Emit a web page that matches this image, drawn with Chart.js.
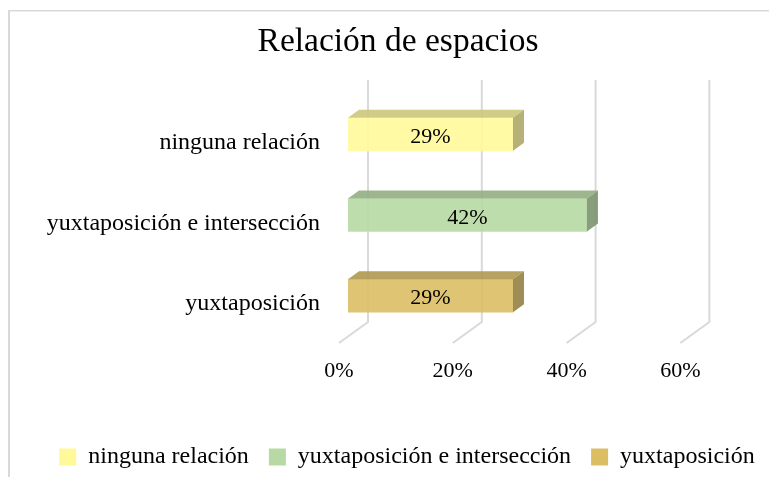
<!DOCTYPE html>
<html>
<head>
<meta charset="utf-8">
<script src="https://cdn.jsdelivr.net/npm/chart.js@4.4.1/dist/chart.umd.min.js"></script>
<style>
  html, body { margin: 0; padding: 0; background: #fff; }
</style>
</head>
<body>
<canvas id="graficoEspacios" width="769" height="477"></canvas>
<script>
var categorias = ['ninguna relación', 'yuxtaposición e intersección', 'yuxtaposición'];
var porcentajes = [29, 42, 29];
var marcasEje = [0, 20, 40, 60];
var colores = ['#FFF999', '#B7D9A3', '#DBBE64'];

var fuente = 'Liberation Serif';

// oscurece un color hex y le pone transparencia
function tono(hex, factor, alfa) {
    var r = parseInt(hex.substr(1, 2), 16) * factor;
    var g = parseInt(hex.substr(3, 2), 16) * factor;
    var b = parseInt(hex.substr(5, 2), 16) * factor;
    return 'rgba(' + Math.round(r) + ',' + Math.round(g) + ',' + Math.round(b) + ',' + alfa + ')';
}

// borde gris del area del grafico
var marco = {
    id: 'marco',
    beforeDraw: function (chart) {
        var ctx = chart.ctx;
        ctx.save();
        ctx.fillStyle = '#D9D9D9';
        ctx.fillRect(8, 10, 2, chart.height - 10);
        ctx.fillRect(8, 10, chart.width - 8, 1.5);
        ctx.restore();
    }
};

// corre un poco la leyenda a la derecha y abajo
var ajusteLeyenda = {
    id: 'ajusteLeyenda',
    afterLayout: function (chart) {
        var l = chart.legend;
        l.left += 9;
        l.right += 9;
        l.top += 3;
        l.bottom += 3;
    }
};

// lineas de division en perspectiva (piso + pared del fondo)
var rejilla3d = {
    id: 'rejilla3d',
    beforeDatasetsDraw: function (chart) {
        var ctx = chart.ctx;
        var area = chart.chartArea;
        var x = chart.scales.x;
        ctx.save();
        ctx.strokeStyle = '#D9D9D9';
        ctx.lineWidth = 2;
        x.ticks.forEach(function (t) {
            var px = x.getPixelForValue(t.value);
            ctx.beginPath();
            ctx.moveTo(px - 9, area.bottom + 7);
            ctx.lineTo(px + 20, area.bottom - 14);
            ctx.lineTo(px + 20, area.top - 14);
            ctx.stroke();
        });
        ctx.restore();
    }
};

// cara superior, cara lateral y etiqueta de cada barra
var barras3d = {
    id: 'barras3d',
    afterDatasetsDraw: function (chart) {
        var ctx = chart.ctx;
        var meta = chart.getDatasetMeta(0);
        var dx = 11, dy = -8;
        ctx.save();
        meta.data.forEach(function (bar, i) {
            var p = bar.getProps(['x', 'y', 'base', 'height'], true);
            var arriba = p.y - p.height / 2;
            var abajo = p.y + p.height / 2;

            ctx.fillStyle = tono(colores[i], 0.8, 0.9);
            ctx.beginPath();
            ctx.moveTo(p.base, arriba);
            ctx.lineTo(p.x, arriba);
            ctx.lineTo(p.x + dx, arriba + dy);
            ctx.lineTo(p.base + dx, arriba + dy);
            ctx.closePath();
            ctx.fill();

            ctx.fillStyle = tono(colores[i], 0.68, 0.9);
            ctx.beginPath();
            ctx.moveTo(p.x, arriba);
            ctx.lineTo(p.x + dx, arriba + dy);
            ctx.lineTo(p.x + dx, abajo + dy);
            ctx.lineTo(p.x, abajo);
            ctx.closePath();
            ctx.fill();

            ctx.fillStyle = '#000';
            ctx.font = '22px "' + fuente + '"';
            ctx.textAlign = 'center';
            ctx.textBaseline = 'middle';
            ctx.fillText(porcentajes[i] + '%', (p.base + p.x) / 2, p.y + 3);
        });
        ctx.restore();
    }
};

new Chart(document.getElementById('graficoEspacios'), {
    type: 'bar',
    data: {
        labels: categorias,
        datasets: [{
            data: porcentajes,
            backgroundColor: colores.map(function (c) { return tono(c, 1, 0.9); }),
            borderWidth: 0,
            barThickness: 33
        }]
    },
    options: {
        indexAxis: 'y',
        responsive: false,
        animation: false,
        layout: { padding: { top: 22, left: 27, right: 0, bottom: 1 } },
        scales: {
            x: {
                min: 0,
                max: 74,
                afterBuildTicks: function (s) {
                    s.ticks = marcasEje.map(function (v) { return { value: v }; });
                },
                afterFit: function (s) { s.height = 86; },
                grid: { display: false, drawTicks: false },
                border: { display: false },
                ticks: {
                    padding: 22,
                    labelOffset: -9,
                    color: '#000',
                    font: { family: fuente, size: 22 },
                    callback: function (v) { return v + '%'; }
                }
            },
            y: {
                afterFit: function (s) { s.width = 321; },
                grid: { display: false, drawTicks: false },
                border: { display: false },
                ticks: {
                    padding: 28,
                    labelOffset: 8.5,
                    color: '#000',
                    font: { family: fuente, size: 24 }
                }
            }
        },
        plugins: {
            title: {
                display: true,
                text: 'Relación de espacios',
                color: '#000',
                font: { family: fuente, size: 33.5, weight: 'normal' },
                padding: { top: 0, bottom: 31.8 }
            },
            legend: {
                position: 'bottom',
                labels: {
                    boxWidth: 17,
                    boxHeight: 17,
                    padding: 20,
                    color: '#000',
                    font: { family: fuente, size: 24 },
                    generateLabels: function () {
                        return categorias.map(function (c, i) {
                            return { text: c, fillStyle: colores[i], strokeStyle: colores[i], lineWidth: 0, hidden: false, index: i };
                        });
                    }
                }
            },
            tooltip: { enabled: false }
        }
    },
    plugins: [marco, ajusteLeyenda, rejilla3d, barras3d]
});
</script>
</body>
</html>
